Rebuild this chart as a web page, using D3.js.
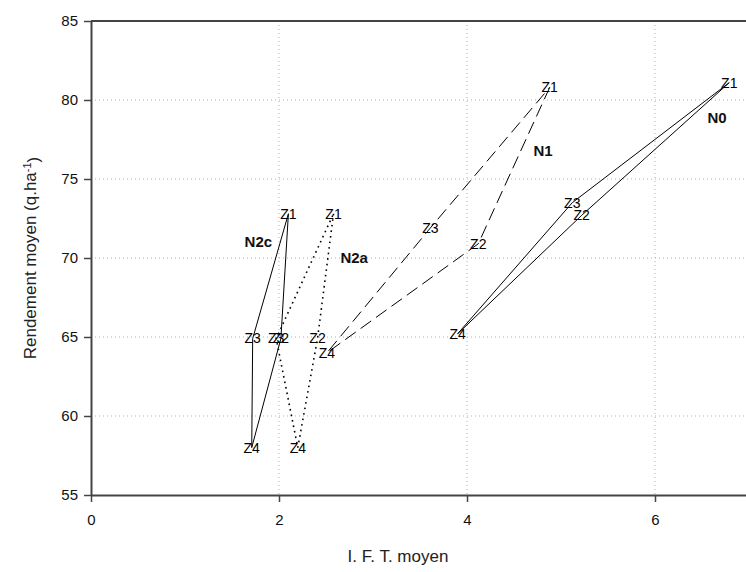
<!DOCTYPE html>
<html>
<head>
<meta charset="utf-8">
<script src="https://cdn.jsdelivr.net/npm/d3@7"></script>
<style>
  body { margin: 0; background: #fff; }
  text { font-family: "Liberation Sans", Arial, sans-serif; }
</style>
</head>
<body>
<svg id="chart" width="746" height="572"></svg>
<script>
var width = 746;
var height = 572;

// zones, in the order the polygon is traced (Z1 -> Z2 -> Z4 -> Z3 -> back to Z1)
var zones = ["Z1", "Z2", "Z4", "Z3"];

var n0Ift = [6.79, 5.22, 3.90, 5.12];
var n0Rdt = [81.1, 72.7, 65.2, 73.5];

var n1Ift = [4.88, 4.12, 2.51, 3.61];
var n1Rdt = [80.8, 70.9, 64.0, 71.9];

var n2aIft = [2.58, 2.41, 2.20, 1.97];
var n2aRdt = [72.8, 64.9, 58.0, 64.9];

var n2cIft = [2.10, 2.02, 1.71, 1.72];
var n2cRdt = [72.8, 64.9, 58.0, 64.9];

var seriesNames = ["N0", "N1", "N2a", "N2c"];
// where the bold series names sit (data units)
var nameIft = [6.66, 4.81, 2.80, 1.78];
var nameRdt = [78.9, 76.8, 70.0, 71.0];

var xTicks = [0, 2, 4, 6];
var yTicks = [55, 60, 65, 70, 75, 80, 85];

var svg = d3.select("#chart");

var x = d3.scaleLinear().domain([0, 7]).range([91, 749]);
var y = d3.scaleLinear().domain([55, 85]).range([495, 21]);

// grid
svg.append("g").selectAll("line")
    .data(xTicks.filter(function (d) { return d > 0; }))
    .enter().append("line")
    .attr("x1", function (d) { return x(d); })
    .attr("x2", function (d) { return x(d); })
    .attr("y1", y(85))
    .attr("y2", y(55))
    .style("stroke", "#b0b0b0")
    .style("stroke-width", 1)
    .style("stroke-dasharray", "1,3");
svg.append("g").selectAll("line")
    .data(yTicks.filter(function (d) { return d > 55 && d < 85; }))
    .enter().append("line")
    .attr("x1", x(0))
    .attr("x2", width)
    .attr("y1", function (d) { return y(d); })
    .attr("y2", function (d) { return y(d); })
    .style("stroke", "#b0b0b0")
    .style("stroke-width", 1)
    .style("stroke-dasharray", "1,3");

// axes
var xAxis = svg.append("g")
    .attr("transform", "translate(0," + y(55) + ")")
    .call(d3.axisBottom(x).tickValues(xTicks).tickFormat(d3.format("d"))
        .tickSize(7).tickSizeOuter(0).tickPadding(12));
var yAxis = svg.append("g")
    .attr("transform", "translate(" + x(0) + ",0)")
    .call(d3.axisLeft(y).tickValues(yTicks).tickFormat(d3.format("d"))
        .tickSize(7).tickSizeOuter(0).tickPadding(6));

[xAxis, yAxis].forEach(function (a) {
    a.select(".domain").style("stroke", "#444").style("stroke-width", 2);
    a.selectAll(".tick line").style("stroke", "#444").style("stroke-width", 1.5);
    a.selectAll(".tick text")
        .style("font-family", "Liberation Sans, Arial, sans-serif")
        .style("font-size", "15px")
        .style("fill", "#111");
});

// top frame line
svg.append("line")
    .attr("x1", x(0)).attr("x2", width)
    .attr("y1", y(85)).attr("y2", y(85))
    .style("stroke", "#444")
    .style("stroke-width", 2);

// polygons
var series = [
    { name: "N0", ift: n0Ift, rdt: n0Rdt, dash: null },
    { name: "N1", ift: n1Ift, rdt: n1Rdt, dash: "13,6" },
    { name: "N2a", ift: n2aIft, rdt: n2aRdt, dash: "1.6,4" },
    { name: "N2c", ift: n2cIft, rdt: n2cRdt, dash: null }
];

var line = d3.line()
    .x(function (d) { return x(d.ift); })
    .y(function (d) { return y(d.rdt); })
    .curve(d3.curveLinearClosed);

series.forEach(function (s) {
    var pts = zones.map(function (z, i) { return { zone: z, ift: s.ift[i], rdt: s.rdt[i] }; });
    svg.append("path")
        .datum(pts)
        .attr("d", line)
        .style("fill", "none")
        .style("stroke", "#000")
        .style("stroke-width", s.dash === "1.6,4" ? 1.6 : 1)
        .style("stroke-dasharray", s.dash);
    svg.append("g").selectAll("text")
        .data(pts)
        .enter().append("text")
        .attr("x", function (d) { return x(d.ift); })
        .attr("y", function (d) { return y(d.rdt); })
        .attr("text-anchor", "middle")
        .attr("dy", "0.35em")
        .style("font-size", "14px")
        .style("fill", "#000")
        .text(function (d) { return d.zone; });
});

// series names
svg.append("g").selectAll("text")
    .data(seriesNames)
    .enter().append("text")
    .attr("x", function (d, i) { return x(nameIft[i]); })
    .attr("y", function (d, i) { return y(nameRdt[i]); })
    .attr("text-anchor", "middle")
    .attr("dy", "0.35em")
    .style("font-size", "15px")
    .style("font-weight", "bold")
    .style("fill", "#111")
    .text(function (d) { return d; });

// axis titles
svg.append("text")
    .attr("x", 398)
    .attr("y", 562)
    .attr("text-anchor", "middle")
    .style("font-size", "17px")
    .style("fill", "#222")
    .text("I. F. T. moyen");

var yt = svg.append("text")
    .attr("transform", "translate(36,258) rotate(-90)")
    .attr("text-anchor", "middle")
    .style("font-size", "17px")
    .style("fill", "#222");
yt.append("tspan").text("Rendement moyen (q.ha");
yt.append("tspan").attr("dy", "-0.5em").style("font-size", "11px").text("-1");
yt.append("tspan").attr("dy", "0.5em").text(")");
</script>
</body>
</html>
